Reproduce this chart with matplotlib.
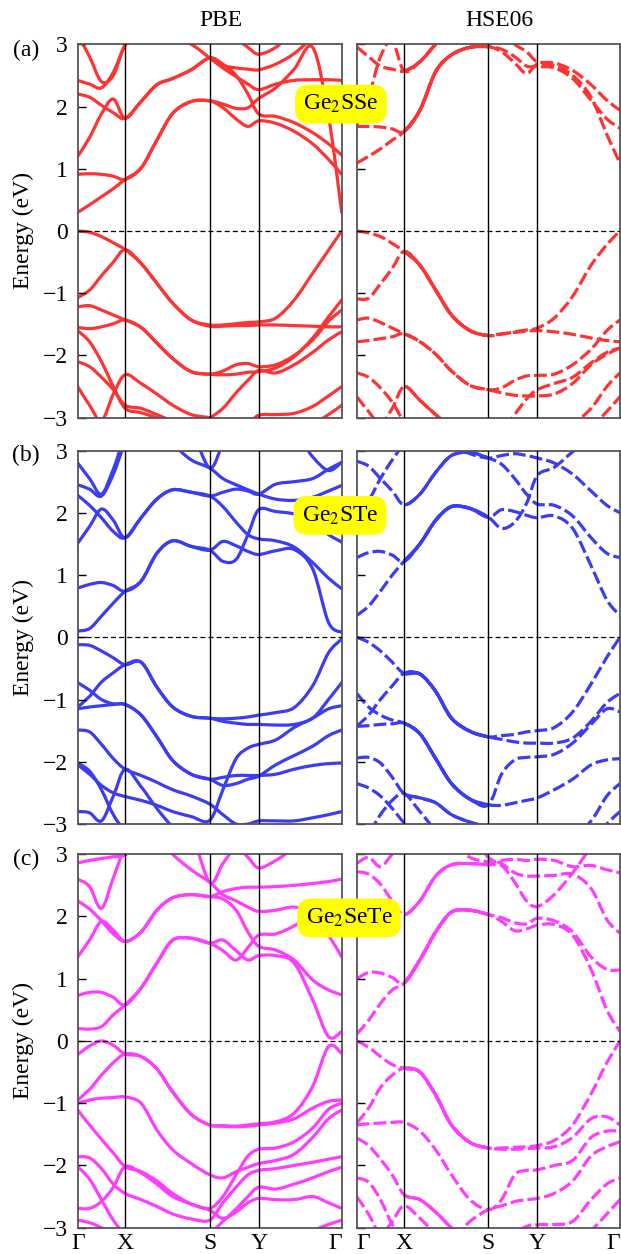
import matplotlib.pyplot as plt
from matplotlib.path import Path
from matplotlib.patches import PathPatch

plt.rcParams['font.family'] = ['Liberation Serif', 'DejaVu Serif']
plt.rcParams['mathtext.fontset'] = 'stix'

# k-path grid (fraction of path length), high symmetry points
k = [0, 0.045, 0.09, 0.135, 0.18, 0.24, 0.30, 0.36, 0.43, 0.50, 0.55, 0.60, 0.645, 0.686, 0.75, 0.82, 0.89, 0.95, 1.0]
k_ticks = [0, 0.18, 0.50, 0.686, 1.0]
k_labels = ['Γ', 'X', 'S', 'Y', 'Γ']

# ---- (a) Ge2SSe ----
pbe_a = [
    [0.30, 0.42, 0.55, 0.68, 0.83, 1.01, 1.46, 1.89, 2.08, 2.09, 1.98, 1.80, 1.68, 1.77, 1.73, 1.60, 1.40, 1.15, 0.91],
    [0.91, 0.92, 0.91, 0.88, 0.83, 1.01, 1.46, 1.89, 2.08, 2.09, 2.04, 1.97, 1.98, 2.13, 2.30, 2.60, 2.95, 1.85, 0.30],
    [1.20, 1.50, 1.88, 2.12, 1.81, 2.08, 2.35, 2.45, 2.59, 2.78, 2.68, 2.50, 2.20, 1.88, 1.84, 1.74, 1.58, 1.40, 1.22],
    [2.20, 2.15, 2.02, 1.90, 1.81, 2.08, 2.35, 2.45, 2.59, 2.78, 2.66, 2.62, 2.60, 2.59, 2.68, 2.85, 3.10, 3.20, 3.20],
    [2.42, 2.36, 2.30, 2.55, 2.98, 3.30, 3.30, 3.10, 3.00, 2.78, 2.62, 2.48, 2.36, 2.27, 2.36, 2.42, 2.43, 2.43, 2.42],
    [3.15, 2.80, 2.40, 2.50, 3.00, 3.30, 3.30, 3.30, 3.30, 3.30, 3.30, 3.10, 2.95, 2.84, 2.95, 3.20, 3.30, 3.30, 3.30],
    [0.00, -0.02, -0.09, -0.19, -0.30, -0.52, -0.84, -1.16, -1.43, -1.51, -1.51, -1.49, -1.47, -1.46, -1.40, -1.11, -0.68, -0.31, 0.00],
    [-1.07, -0.95, -0.72, -0.50, -0.30, -0.52, -0.84, -1.16, -1.43, -1.53, -1.53, -1.52, -1.52, -1.51, -1.51, -1.52, -1.53, -1.54, -1.54],
    [-1.22, -1.20, -1.27, -1.35, -1.43, -1.55, -1.80, -2.05, -2.26, -2.30, -2.31, -2.30, -2.27, -2.26, -2.20, -2.02, -1.72, -1.38, -1.11],
    [-1.55, -1.57, -1.54, -1.49, -1.43, -1.55, -1.80, -2.05, -2.26, -2.30, -2.25, -2.15, -2.13, -2.18, -2.15, -2.00, -1.75, -1.45, -1.27],
    [-1.60, -1.78, -2.10, -2.50, -2.85, -2.92, -3.00, -3.08, -3.12, -3.00, -2.85, -2.60, -2.40, -2.24, -2.28, -2.15, -1.95, -1.75, -1.62],
    [-2.10, -2.18, -2.35, -2.55, -2.80, -2.85, -2.95, -3.05, -3.10, -3.12, -3.15, -3.15, -3.10, -2.96, -2.95, -2.93, -2.82, -2.65, -2.50],
    [-2.50, -2.80, -3.05, -2.62, -2.31, -2.45, -2.62, -2.80, -2.95, -3.00, -3.05, -3.10, -3.15, -3.20, -3.20, -3.20, -3.10, -2.95, -2.80],
]
hse_a = [
    [1.09, 1.20, 1.32, 1.46, 1.60, 1.94, 2.56, 2.83, 2.95, 2.96, 2.88, 2.70, 2.53, 2.68, 2.66, 2.50, 2.15, 1.55, 1.09],
    [1.68, 1.68, 1.67, 1.64, 1.60, 1.94, 2.56, 2.83, 2.95, 2.96, 2.92, 2.80, 2.65, 2.64, 2.62, 2.45, 2.10, 1.80, 1.65],
    [2.96, 2.80, 2.65, 2.60, 2.57, 2.72, 3.00, 3.20, 3.30, 3.30, 3.20, 3.00, 2.88, 2.72, 2.70, 2.58, 2.35, 2.10, 1.94],
    [1.70, 2.15, 2.80, 3.05, 2.57, 2.72, 3.00, 3.30, 3.30, 3.30, 3.30, 3.30, 3.30, 3.30, 3.30, 3.30, 3.30, 3.30, 3.30],
    [0.00, -0.03, -0.09, -0.20, -0.33, -0.55, -0.95, -1.35, -1.60, -1.68, -1.66, -1.62, -1.59, -1.56, -1.40, -1.05, -0.55, -0.22, 0.00],
    [-1.09, -1.08, -0.85, -0.60, -0.33, -0.55, -0.95, -1.35, -1.60, -1.68, -1.65, -1.63, -1.61, -1.60, -1.62, -1.66, -1.72, -1.76, -1.78],
    [-1.43, -1.40, -1.47, -1.56, -1.65, -1.78, -1.98, -2.25, -2.48, -2.55, -2.52, -2.40, -2.33, -2.32, -2.30, -2.15, -1.90, -1.60, -1.43],
    [-1.78, -1.76, -1.73, -1.70, -1.65, -1.78, -1.98, -2.25, -2.48, -2.55, -2.60, -2.64, -2.65, -2.65, -2.62, -2.45, -2.15, -1.98, -1.88],
    [-2.28, -2.35, -2.52, -2.75, -3.05, -3.20, -3.20, -3.20, -3.20, -3.20, -3.20, -3.20, -3.20, -3.20, -3.20, -3.10, -2.85, -2.50, -2.28],
    [-2.66, -2.90, -3.10, -2.85, -2.50, -2.72, -2.95, -3.15, -3.30, -3.30, -3.30, -3.30, -3.30, -3.30, -3.30, -3.30, -3.15, -2.90, -2.66],
    [-3.30, -3.30, -3.30, -3.30, -3.30, -3.30, -3.30, -3.30, -3.30, -3.30, -3.25, -2.95, -2.70, -2.55, -2.45, -2.35, -2.12, -1.95, -1.88],
]
hse_a_solid = [True, True, True, False, True, True, False, False, False, True, False]

# ---- (b) Ge2STe ----
pbe_b = [
    [0.10, 0.14, 0.34, 0.55, 0.74, 0.90, 1.35, 1.55, 1.46, 1.40, 1.54, 1.47, 1.38, 1.33, 1.39, 1.41, 1.10, 0.24, 0.08],
    [0.79, 0.85, 0.88, 0.83, 0.74, 0.90, 1.35, 1.55, 1.46, 1.40, 1.22, 1.25, 1.65, 2.05, 2.02, 1.98, 1.85, 1.65, 1.53],
    [1.51, 1.78, 2.06, 1.88, 1.60, 1.92, 2.22, 2.37, 2.33, 2.27, 2.10, 1.85, 1.65, 1.58, 1.55, 1.45, 1.20, 0.95, 0.78],
    [2.28, 2.12, 1.92, 1.70, 1.60, 1.92, 2.22, 2.37, 2.33, 2.27, 2.33, 2.38, 2.35, 2.30, 2.46, 2.50, 2.55, 2.70, 2.81],
    [2.45, 2.38, 2.27, 2.62, 3.10, 3.30, 3.30, 3.10, 2.85, 2.72, 2.55, 2.45, 2.37, 2.30, 2.22, 2.20, 2.25, 2.35, 2.44],
    [2.80, 2.55, 2.30, 2.70, 3.20, 3.30, 3.30, 3.30, 3.30, 2.72, 3.10, 3.30, 3.30, 3.30, 3.30, 3.30, 2.90, 2.68, 2.81],
    [-0.12, -0.13, -0.22, -0.33, -0.44, -0.40, -0.80, -1.12, -1.27, -1.30, -1.31, -1.30, -1.28, -1.25, -1.21, -1.13, -0.78, -0.25, -0.03],
    [-1.12, -0.95, -0.72, -0.57, -0.44, -0.40, -0.80, -1.12, -1.27, -1.30, -1.35, -1.38, -1.40, -1.40, -1.41, -1.40, -1.30, -1.00, -0.73],
    [-0.73, -0.85, -1.00, -1.07, -1.08, -1.25, -1.60, -1.98, -2.20, -2.28, -2.38, -2.35, -2.28, -2.23, -2.05, -1.90, -1.75, -1.58, -1.49],
    [-1.15, -1.12, -1.10, -1.08, -1.08, -1.25, -1.60, -1.98, -2.20, -2.28, -2.25, -2.22, -2.22, -2.22, -2.20, -2.12, -2.06, -2.03, -2.02],
    [-1.49, -1.52, -1.72, -1.95, -2.12, -2.22, -2.33, -2.45, -2.55, -2.68, -2.85, -3.00, -3.00, -2.95, -2.95, -2.95, -2.90, -2.85, -2.80],
    [-2.02, -2.15, -2.45, -2.85, -3.10, -3.20, -3.30, -3.30, -3.30, -3.30, -3.30, -3.30, -3.30, -3.30, -3.30, -3.30, -3.30, -3.30, -3.30],
    [-2.05, -2.20, -2.38, -2.50, -2.56, -2.62, -2.70, -2.80, -2.88, -2.94, -2.45, -1.95, -1.78, -1.72, -1.65, -1.45, -1.30, -1.15, -1.10],
    [-2.80, -2.82, -2.95, -2.55, -2.12, -2.40, -2.75, -3.05, -3.30, -3.30, -3.30, -3.30, -3.30, -3.30, -3.30, -3.30, -3.30, -3.30, -3.30],
]
hse_b = [
    [0.35, 0.50, 0.74, 1.00, 1.22, 1.50, 1.88, 2.10, 2.07, 1.93, 1.75, 1.85, 2.15, 2.60, 2.73, 2.98, 3.20, 3.30, 3.30],
    [1.28, 1.36, 1.38, 1.32, 1.22, 1.50, 1.88, 2.10, 2.07, 1.93, 2.05, 2.02, 1.96, 1.92, 1.95, 1.75, 1.15, 0.60, 0.35],
    [2.83, 2.75, 2.55, 2.35, 2.13, 2.30, 2.65, 2.92, 2.97, 2.88, 2.78, 2.55, 2.30, 2.14, 2.12, 1.95, 1.60, 1.35, 1.28],
    [2.05, 2.20, 2.55, 2.85, 3.10, 3.30, 3.30, 3.10, 2.95, 2.88, 2.92, 2.95, 2.92, 2.88, 2.80, 2.62, 2.35, 2.12, 2.00],
    [0.00, -0.08, -0.22, -0.40, -0.58, -0.59, -0.87, -1.30, -1.51, -1.60, -1.58, -1.56, -1.52, -1.50, -1.45, -1.20, -0.75, -0.32, 0.00],
    [-1.43, -1.25, -1.00, -0.78, -0.58, -0.59, -0.87, -1.30, -1.51, -1.60, -1.64, -1.68, -1.70, -1.70, -1.70, -1.62, -1.35, -1.05, -0.90],
    [-0.90, -1.12, -1.25, -1.33, -1.38, -1.55, -1.95, -2.35, -2.60, -2.69, -2.20, -1.97, -1.93, -1.92, -1.88, -1.70, -1.40, -1.15, -1.20],
    [-1.43, -1.42, -1.40, -1.39, -1.38, -1.55, -1.95, -2.35, -2.60, -2.69, -2.70, -2.66, -2.62, -2.58, -2.45, -2.28, -2.05, -1.97, -1.95],
    [-1.94, -1.93, -2.02, -2.25, -2.51, -2.58, -2.66, -2.85, -2.97, -3.05, -3.10, -3.10, -3.10, -3.10, -3.15, -3.20, -2.95, -2.55, -2.35],
    [-2.35, -2.42, -2.55, -2.75, -2.98, -3.20, -3.30, -3.30, -3.30, -3.30, -3.30, -3.30, -3.30, -3.30, -3.30, -3.30, -3.30, -3.00, -2.80],
    [-3.30, -3.15, -2.85, -2.62, -2.51, -2.80, -3.10, -3.30, -3.30, -3.30, -3.30, -3.30, -3.30, -3.30, -3.30, -3.30, -3.30, -3.30, -3.30],
]
hse_b_solid = [True, True, True, False, True, True, True, True, True, False, False]

# ---- (c) Ge2SeTe ----
pbe_c = [
    [0.20, 0.19, 0.23, 0.42, 0.58, 0.85, 1.25, 1.62, 1.65, 1.57, 1.62, 1.45, 1.30, 1.37, 1.37, 1.25, 0.66, 0.07, 0.15],
    [0.73, 0.78, 0.78, 0.70, 0.58, 0.85, 1.25, 1.62, 1.65, 1.57, 1.45, 1.30, 1.50, 1.70, 1.72, 1.85, 2.05, 2.20, 2.25],
    [1.35, 1.62, 1.92, 1.78, 1.60, 1.75, 2.10, 2.30, 2.35, 2.32, 2.40, 2.45, 2.47, 2.47, 2.48, 2.50, 2.53, 2.56, 2.60],
    [2.25, 2.12, 1.93, 1.72, 1.60, 1.75, 2.10, 2.30, 2.35, 2.32, 2.28, 2.10, 1.75, 1.52, 1.46, 1.30, 0.98, 0.82, 0.74],
    [2.60, 2.48, 2.13, 2.62, 3.10, 3.30, 3.30, 3.00, 2.75, 2.55, 2.35, 2.25, 2.15, 2.08, 2.10, 2.15, 2.05, 1.70, 1.35],
    [2.86, 2.90, 2.93, 2.96, 2.99, 3.20, 3.30, 3.30, 3.30, 2.55, 2.85, 3.10, 2.95, 2.78, 2.90, 3.10, 3.30, 3.30, 3.30],
    [-0.22, -0.08, 0.00, -0.07, -0.21, -0.25, -0.45, -0.82, -1.18, -1.35, -1.36, -1.37, -1.35, -1.33, -1.30, -1.16, -0.73, -0.09, -0.20],
    [-0.95, -0.78, -0.55, -0.35, -0.21, -0.25, -0.45, -0.82, -1.18, -1.35, -1.37, -1.38, -1.37, -1.35, -1.32, -1.25, -1.08, -0.97, -0.95],
    [-1.00, -0.95, -0.92, -0.91, -0.90, -1.00, -1.43, -1.75, -1.97, -2.15, -2.20, -2.10, -2.03, -1.97, -1.92, -1.82, -1.55, -1.25, -1.11],
    [-1.11, -1.35, -1.58, -1.80, -2.02, -2.10, -2.25, -2.45, -2.62, -2.69, -2.50, -2.15, -1.85, -1.74, -1.72, -1.62, -1.40, -1.10, -1.00],
    [-1.86, -1.88, -2.05, -2.30, -2.45, -2.55, -2.66, -2.78, -2.86, -2.88, -2.60, -2.35, -2.15, -2.08, -2.05, -2.00, -1.95, -1.90, -1.86],
    [-2.02, -2.22, -2.55, -2.88, -3.10, -3.20, -3.30, -3.30, -3.30, -3.10, -2.90, -2.70, -2.50, -2.35, -2.38, -2.30, -2.20, -2.10, -2.03],
    [-2.69, -2.69, -2.58, -2.35, -2.02, -2.12, -2.30, -2.50, -2.62, -2.72, -2.85, -2.75, -2.60, -2.53, -2.55, -2.55, -2.50, -2.60, -2.69],
    [-2.88, -2.92, -3.00, -3.10, -3.20, -3.30, -3.30, -3.30, -3.30, -3.30, -3.30, -3.30, -3.30, -3.30, -3.30, -3.20, -3.05, -2.95, -2.88],
]
hse_c = [
    [0.11, 0.33, 0.60, 0.82, 0.93, 1.30, 1.75, 2.07, 2.10, 2.03, 1.92, 1.77, 1.80, 1.86, 1.87, 1.70, 1.15, 0.50, 0.15],
    [1.00, 1.10, 1.09, 1.02, 0.93, 1.30, 1.75, 2.07, 2.10, 2.03, 1.98, 1.90, 1.88, 1.97, 1.93, 1.75, 1.35, 1.15, 1.14],
    [2.72, 2.68, 2.52, 2.25, 2.03, 2.25, 2.65, 2.83, 2.85, 2.83, 2.82, 2.55, 2.25, 2.16, 2.35, 2.70, 3.10, 3.30, 3.30],
    [2.85, 2.95, 2.80, 3.00, 3.20, 3.30, 3.30, 3.20, 2.95, 2.88, 2.90, 2.92, 2.90, 2.92, 2.90, 2.80, 2.82, 2.75, 2.70],
    [3.30, 3.30, 3.30, 3.30, 3.30, 3.30, 3.30, 3.30, 3.30, 2.95, 2.85, 2.70, 2.65, 2.65, 2.66, 2.68, 2.45, 1.95, 1.73],
    [0.00, -0.10, -0.25, -0.38, -0.44, -0.50, -0.87, -1.35, -1.63, -1.72, -1.72, -1.71, -1.70, -1.68, -1.60, -1.35, -0.85, -0.35, 0.00],
    [-1.32, -1.08, -0.75, -0.55, -0.44, -0.50, -0.87, -1.35, -1.63, -1.72, -1.74, -1.74, -1.73, -1.72, -1.70, -1.55, -1.25, -1.22, -1.35],
    [-1.35, -1.33, -1.32, -1.31, -1.31, -1.45, -1.75, -2.15, -2.55, -2.71, -2.55, -2.15, -2.08, -2.07, -2.00, -1.92, -1.55, -1.45, -1.45],
    [-1.56, -1.68, -1.90, -2.15, -2.47, -2.55, -2.75, -3.00, -3.20, -3.30, -3.30, -3.30, -3.30, -3.30, -3.30, -3.30, -3.30, -3.30, -3.30],
    [-2.20, -2.27, -2.55, -2.95, -3.20, -3.30, -3.30, -3.20, -2.90, -2.71, -2.65, -2.58, -2.55, -2.53, -2.45, -2.25, -1.85, -1.70, -1.62],
    [-2.50, -2.78, -3.10, -2.90, -2.65, -2.85, -3.10, -3.30, -3.30, -3.30, -3.30, -3.10, -2.98, -2.95, -2.95, -2.90, -2.55, -2.30, -2.20],
    [-3.30, -3.30, -3.30, -3.30, -3.30, -3.30, -3.30, -3.30, -3.30, -3.30, -3.30, -3.30, -3.30, -3.30, -3.30, -3.30, -3.05, -2.78, -2.55],
]
hse_c_solid = [True, True, True, False, False, True, True, False, True, False, False, False]

colors = ['#ff3333', '#3c3cf4', '#ff3cff']
names = ['Ge$_2$SSe', 'Ge$_2$STe', 'Ge$_2$SeTe']
tags = ['(a)', '(b)', '(c)']
pbe_sets = [pbe_a, pbe_b, pbe_c]
hse_sets = [hse_a, hse_b, hse_c]
solid_sets = [hse_a_solid, hse_b_solid, hse_c_solid]


def band_path(xs, ys, i0=0, i1=None):
    # smooth curve through the band points (cubic segments, catmull-rom tangents)
    n = len(xs)
    if i1 is None:
        i1 = n - 1
    verts = [(xs[i0], ys[i0])]
    codes = [Path.MOVETO]
    for i in range(i0, i1):
        a = max(i - 1, 0)
        d = min(i + 2, n - 1)
        c1 = (xs[i] + (xs[i + 1] - xs[a]) / 6, ys[i] + (ys[i + 1] - ys[a]) / 6)
        c2 = (xs[i + 1] - (xs[d] - xs[i]) / 6, ys[i + 1] - (ys[d] - ys[i]) / 6)
        verts += [c1, c2, (xs[i + 1], ys[i + 1])]
        codes += [Path.CURVE4] * 3
    return Path(verts, codes)


fig = plt.figure(figsize=(6.21, 12.54), dpi=100)
bottoms = [0.6669, 0.3429, 0.0210]
h = 0.2978
name_pos = [(0.549, 0.917), (0.5475, 0.589), (0.562, 0.268)]
tag_y = [0.960, 0.637, 0.3146]
fs = 17
lw = 2.3

for r in range(3):
    axl = fig.add_axes([0.1251, bottoms[r], 0.4251, h])
    axr = fig.add_axes([0.5744, bottoms[r], 0.4240, h])
    c = colors[r]
    for band in pbe_sets[r]:
        axl.add_patch(PathPatch(band_path(k, band), fill=False, ec=c, lw=lw, capstyle='round'))
    for band, solid in zip(hse_sets[r], solid_sets[r]):
        axr.add_patch(PathPatch(band_path(k, band), fill=False, ec=c, lw=lw,
                                linestyle=(0, (4, 1.3)), capstyle='butt'))
        if solid:
            axr.add_patch(PathPatch(band_path(k, band, 4, 9), fill=False, ec=c, lw=lw))
    for ax in (axl, axr):
        ax.set_xlim(0, 1)
        ax.set_ylim(-3, 3)
        for kk in k_ticks[1:-1]:
            ax.axvline(kk, color='black', lw=1.0, zorder=3)
        ax.axhline(0, color='black', lw=0.9, dashes=(4, 2.5), zorder=3)
        ax.set_yticks([-3, -2, -1, 0, 1, 2, 3])
        ax.tick_params(axis='y', direction='in', length=6, width=1, left=True, right=False,
                       labelsize=fs, pad=7)
        ax.tick_params(axis='x', length=0, labelsize=fs, pad=4)
        for sp in ax.spines.values():
            sp.set_color('#555555')
            sp.set_linewidth(1.3)
        if r == 2:
            ax.set_xticks(k_ticks)
            ax.set_xticklabels(k_labels)
        else:
            ax.set_xticks([])
    if r == 2:
        axl.get_xticklabels()[-1].set_ha('right')
        axr.get_xticklabels()[0].set_ha('left')
        axr.get_xticklabels()[-1].set_ha('right')
    axr.set_yticklabels([])
    fig.text(0.037, bottoms[r] + h / 2, 'Energy (eV)', rotation=90, ha='center', va='center', fontsize=fs)
    fig.text(0.042, tag_y[r], tags[r], ha='center', va='center', fontsize=fs)
    fig.text(name_pos[r][0], name_pos[r][1], names[r], ha='center', va='center', fontsize=fs, zorder=10,
             bbox=dict(boxstyle='round,pad=0.35,rounding_size=0.6', fc='#ffff00', ec='none'))

fig.text(0.356, 0.984, 'PBE', ha='center', va='center', fontsize=fs)
fig.text(0.805, 0.984, 'HSE06', ha='center', va='center', fontsize=fs)

fig.savefig('out.png', dpi=100)
